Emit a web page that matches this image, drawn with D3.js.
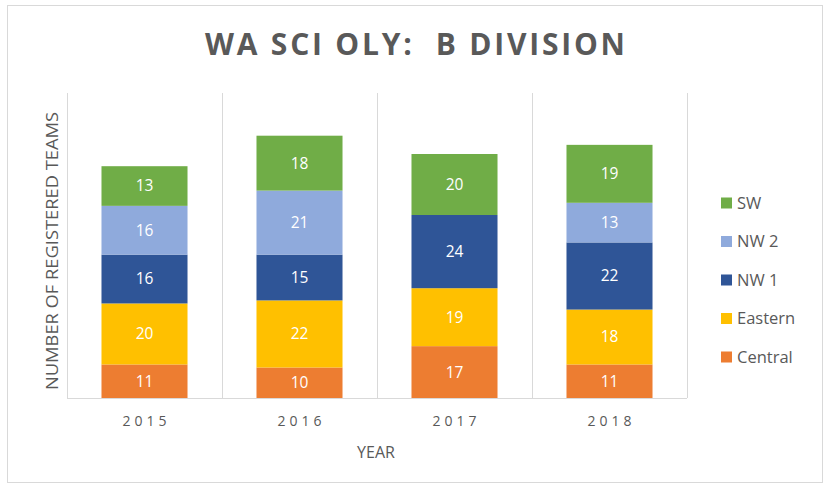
<!DOCTYPE html>
<html>
<head>
<meta charset="utf-8">
<script src="https://cdn.jsdelivr.net/npm/d3@7"></script>
<style>
  body { margin: 0; background: #fff; }
  text { font-family: "Open Sans", "Noto Sans", sans-serif; }
</style>
</head>
<body>
<div id="chart"></div>
<script>
// data
var years = ["2015", "2016", "2017", "2018"]
var regions = ["Central", "Eastern", "NW 1", "NW 2", "SW"]
var central = [11, 10, 17, 11]
var eastern = [20, 22, 19, 18]
var nw1 = [16, 15, 24, 22]
var nw2 = [16, 21, 0, 13]
var sw = [13, 18, 20, 19]
var colors = ["#ED7D31", "#FFC000", "#2F5597", "#8FAADC", "#70AD47"]

var W = 826, H = 486
var margin = {top: 93, right: 139, bottom: 88, left: 67},
    width = W - margin.left - margin.right,
    height = H - margin.top - margin.bottom

var svg = d3.select("#chart").append("svg")
    .attr("width", W).attr("height", H)

// outer frame
svg.append("rect")
    .attr("x", 7.5).attr("y", 5.5)
    .attr("width", 815).attr("height", 477)
    .attr("fill", "#fff").attr("stroke", "#d9d9d9")

var g = svg.append("g")
    .attr("transform", "translate(" + margin.left + "," + margin.top + ")")

// build the table for the stack
var series = [central, eastern, nw1, nw2, sw]
var table = years.map(function(y, i) {
    var row = {year: y}
    regions.forEach(function(r, j) { row[r] = series[j][i] })
    return row
})
var stacked = d3.stack().keys(regions)(table)

var x = d3.scaleBand().domain(years).range([0, width]).paddingInner(0).paddingOuter(0)
var y = d3.scaleLinear().domain([0, 100]).range([height, 0])
var color = d3.scaleOrdinal().domain(regions).range(colors)

// vertical grid lines at category edges
g.append("g").selectAll("line")
    .data(years)
    .enter().append("line")
    .attr("x1", function(d) { return x(d) + x.bandwidth() + 0.5 })
    .attr("x2", function(d) { return x(d) + x.bandwidth() + 0.5 })
    .attr("y1", 0).attr("y2", height)
    .attr("stroke", "#d9d9d9")

g.append("line")
    .attr("x1", 0.5).attr("x2", 0.5).attr("y1", 0).attr("y2", height)
    .attr("stroke", "#d9d9d9")

var barW = x.bandwidth() * 0.555

var layers = g.selectAll(".layer")
    .data(stacked)
    .enter().append("g")
    .attr("fill", function(d) { return color(d.key) })

layers.selectAll("rect")
    .data(function(d) { return d.filter(function(p) { return p[1] - p[0] > 0 }) })
    .enter().append("rect")
    .attr("x", function(d) { return x(d.data.year) + (x.bandwidth() - barW) / 2 })
    .attr("width", barW)
    .attr("y", function(d) { return y(d[1]) })
    .attr("height", function(d) { return y(d[0]) - y(d[1]) })

layers.selectAll("text")
    .data(function(d) { return d.filter(function(p) { return p[1] - p[0] > 0 }) })
    .enter().append("text")
    .attr("x", function(d) { return x(d.data.year) + x.bandwidth() / 2 })
    .attr("y", function(d) { return (y(d[0]) + y(d[1])) / 2 })
    .attr("dy", "0.35em")
    .attr("text-anchor", "middle")
    .attr("fill", "#fff")
    .style("font-size", "15.5px")
    .text(function(d) { return d[1] - d[0] })

// x axis
var xAxis = g.append("g")
    .attr("transform", "translate(0," + height + ")")
    .call(d3.axisBottom(x).tickSize(0).tickPadding(18))
xAxis.select(".domain").attr("stroke", "#d9d9d9").attr("d", "M0,0.5H" + width)
xAxis.selectAll("text")
    .attr("fill", "#595959")
    .style("font-size", "14px")
    .style("letter-spacing", "4px")
    .attr("dx", "2px")

// axis titles
svg.append("text")
    .attr("x", margin.left + width / 2 - 1).attr("y", 458)
    .attr("text-anchor", "middle")
    .attr("fill", "#595959")
    .style("font-size", "16px")
    .text("YEAR")

svg.append("text")
    .attr("transform", "translate(58," + 251 + ") rotate(-90)")
    .attr("text-anchor", "middle")
    .attr("fill", "#595959")
    .style("font-size", "15.5px")
    .attr("textLength", 278)
    .attr("lengthAdjust", "spacingAndGlyphs")
    .text("NUMBER OF REGISTERED TEAMS")

// title
svg.append("text")
    .attr("x", 415).attr("y", 55)
    .attr("text-anchor", "middle")
    .attr("fill", "#595959")
    .style("font-size", "30px")
    .style("font-weight", "bold")
    .attr("textLength", 420)
    .attr("lengthAdjust", "spacing")
    .attr("xml:space", "preserve")
    .style("white-space", "pre")
    .text("WA SCI OLY:  B DIVISION")

// legend
var legendKeys = regions.slice().reverse()
var legend = svg.append("g")
    .attr("transform", "translate(721,203)")

legend.selectAll("rect")
    .data(legendKeys)
    .enter().append("rect")
    .attr("x", 0)
    .attr("y", function(d, i) { return i * 38.5 - 5.5 })
    .attr("width", 11).attr("height", 11)
    .attr("fill", function(d) { return color(d) })

legend.selectAll("text")
    .data(legendKeys)
    .enter().append("text")
    .attr("x", 16)
    .attr("y", function(d, i) { return i * 38.5 })
    .attr("dy", "0.35em")
    .attr("fill", "#595959")
    .style("font-size", "16.5px")
    .text(function(d) { return d })
</script>
</body>
</html>
